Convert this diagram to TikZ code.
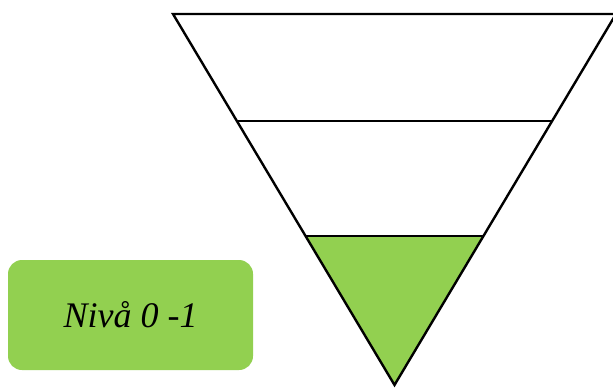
\documentclass[tikz,border=0pt]{standalone}
\usepackage{fontspec}
\setmainfont{Liberation Serif}
\definecolor{levelgreen}{HTML}{92D050}
\begin{document}
\begin{tikzpicture}[x=1pt, y=-1pt, line width=2.4pt]
        \useasboundingbox (0,0) rectangle (613,388);
        % triangle corners
        \coordinate (tl) at (173,14);
        \coordinate (tr) at (616,14);
        \coordinate (apex) at (394.5,385);
        % level cut points
        \coordinate (ml) at (236.7,121);
        \coordinate (mr) at (552.3,121);
        \coordinate (bl) at (305,236);
        \coordinate (br) at (484,236);
        % green bottom part
        \fill[levelgreen] (bl) -- (br) -- (apex) -- cycle;
        % outline
        \draw (tl) -- (tr) -- (apex) -- cycle;
        % horizontal edges
        \draw (ml) -- (mr);
        \draw (bl) -- (br);
        % level box
        \node[fill=levelgreen, rounded corners=14pt, minimum width=245pt, minimum height=110pt, inner sep=0pt, font=\itshape\fontsize{36}{40}\selectfont] (level) at (130.5,315) {Nivå 0 -1};
\end{tikzpicture}
\end{document}
